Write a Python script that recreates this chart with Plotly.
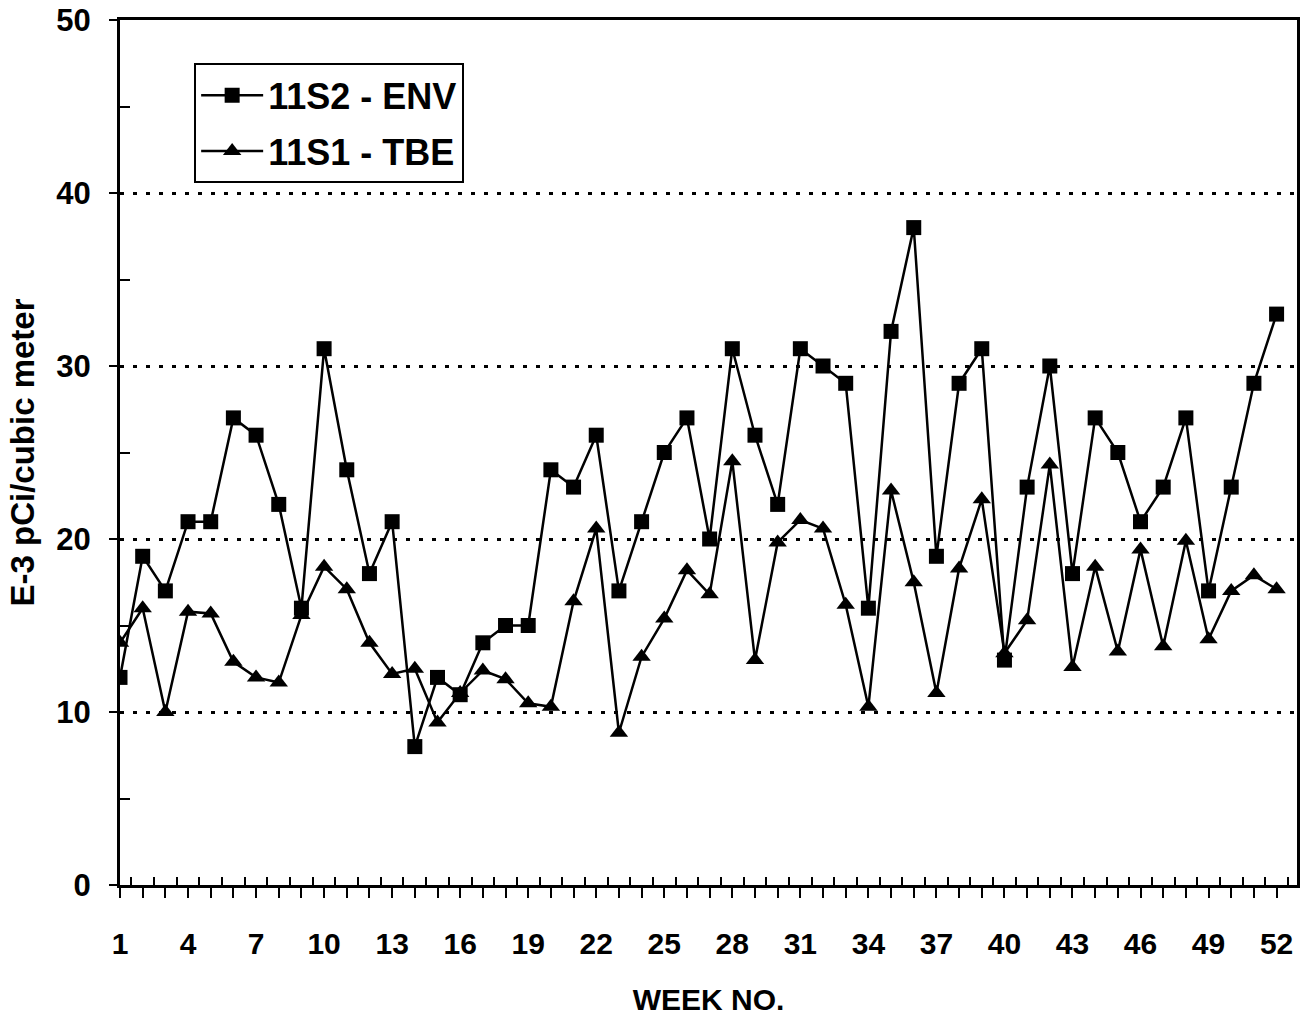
import plotly.graph_objects as go

weeks = list(range(1, 53))
env_11s2 = [12, 19, 17, 21, 21, 27, 26, 22, 16, 31,
            24, 18, 21, 8, 12, 11, 14, 15, 15, 24,
            23, 26, 17, 21, 25, 27, 20, 31, 26, 22,
            31, 30, 29, 16, 32, 38, 19, 29, 31, 13,
            23, 30, 18, 27, 25, 21, 23, 27, 17, 23,
            29, 33]
tbe_11s1 = [14.0, 16.0, 10.0, 15.8, 15.7, 12.9, 12.0, 11.7, 15.6, 18.4,
            17.1, 14.0, 12.2, 12.5, 9.4, 11.1, 12.4, 11.9, 10.5, 10.3,
            16.4, 20.6, 8.8, 13.2, 15.4, 18.2, 16.8, 24.5, 13.0, 19.8,
            21.1, 20.6, 16.2, 10.3, 22.8, 17.5, 11.1, 18.3, 22.3, 13.4,
            15.3, 24.3, 12.6, 18.4, 13.5, 19.4, 13.8, 19.9, 14.2, 17.0,
            17.9, 17.1]
xlabel_weeks = list(range(1, 53, 3))
ytick_vals = [0, 10, 20, 30, 40, 50]

FONT = "Liberation Sans"

fig = go.Figure()
fig.add_trace(go.Scatter(
    x=weeks, y=env_11s2, mode="lines+markers", name="11S2 - ENV",
    legendgroup="a",
    line=dict(color="black", width=2.5),
    marker=dict(symbol="square", size=15, color="black"),
))
fig.add_trace(go.Scatter(
    x=weeks, y=tbe_11s1, mode="lines+markers", name="11S1 - TBE",
    legendgroup="b",
    line=dict(color="black", width=2.5),
    marker=dict(symbol="triangle-up", size=16, color="black"),
))

ticktext = [str(w) if w in xlabel_weeks else "" for w in weeks]

fig.update_layout(
    width=1303, height=1016,
    margin=dict(l=120, r=3, t=20, b=128),
    paper_bgcolor="white", plot_bgcolor="white",
    font=dict(family=FONT, color="black", size=30, weight="bold"),
    showlegend=True,
    legend=dict(
        x=0.063, y=0.95, xanchor="left", yanchor="top",
        bgcolor="white", bordercolor="black", borderwidth=2,
        font=dict(family=FONT, size=36, weight="bold", color="black"),
        itemwidth=62, tracegroupgap=6,
    ),
    xaxis=dict(
        range=[1, 52.9], tickmode="array", tickvals=weeks, ticktext=ticktext,
        ticks="outside", ticklen=10, tickwidth=2, tickcolor="black",
        showline=True, linecolor="black", linewidth=3, mirror=True,
        showgrid=False, zeroline=False,
        ticklabelstandoff=20,
        tickfont=dict(family=FONT, size=30, weight="bold"),
        title=dict(text="WEEK NO.", font=dict(family=FONT, size=30, weight="bold"), standoff=32),
        minor=dict(tickmode="linear", tick0=1.5, dtick=1, ticks="inside", ticklen=8,
                   tickwidth=1.5, tickcolor="black", showgrid=False),
    ),
    yaxis=dict(
        range=[0, 50], tickmode="array", tickvals=ytick_vals,
        ticks="outside", ticklen=8, tickwidth=2, tickcolor="black",
        showline=True, linecolor="black", linewidth=3, mirror=True,
        showgrid=True, gridcolor="black", gridwidth=2.5, griddash="4px,9px",
        zeroline=False,
        ticklabelstandoff=12,
        tickfont=dict(family=FONT, size=31, weight="bold"),
        title=dict(text="E-3 pCi/cubic meter", font=dict(family=FONT, size=33, weight="bold"), standoff=12),
        minor=dict(tickmode="linear", tick0=5, dtick=10, ticks="inside", ticklen=10,
                   tickwidth=2, tickcolor="black", showgrid=False),
    ),
)

fig.write_html("out.html")
